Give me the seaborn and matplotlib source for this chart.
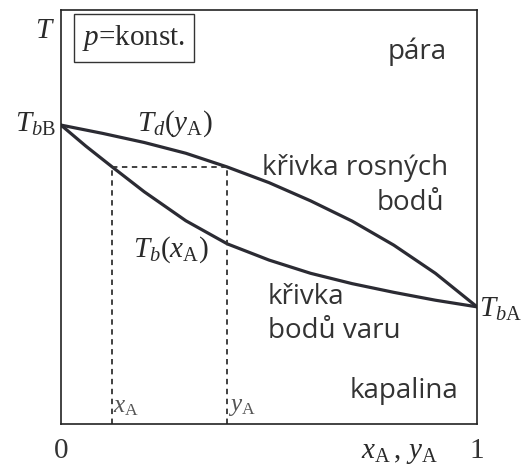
import matplotlib
matplotlib.use("Agg")
import matplotlib.pyplot as plt
import seaborn as sns
import pandas as pd

# Composition of component A (liquid x_A / vapour y_A) and reduced temperature
dew_x = [0.0, 0.1, 0.2, 0.3, 0.399, 0.5, 0.6, 0.7, 0.8, 0.9, 1.0]
dew_T = [0.722, 0.702, 0.680, 0.654, 0.621, 0.583, 0.539, 0.490, 0.432, 0.364, 0.283]

boil_x = [0.0, 0.06, 0.123, 0.2, 0.3, 0.4, 0.5, 0.6, 0.7, 0.8, 0.9, 1.0]
boil_T = [0.722, 0.671, 0.621, 0.561, 0.491, 0.435, 0.396, 0.364, 0.339, 0.318, 0.299, 0.283]

# Equilibrium tie line: liquid x_A and vapour y_A at the same temperature
tie_x = 0.123
tie_y = 0.399
tie_T = 0.621

x_ticks = [0, 1]
x_tick_labels = ["0", "1"]

sns.set_style("white")
plt.rcParams["mathtext.fontset"] = "custom"
plt.rcParams["mathtext.rm"] = "Liberation Serif"
plt.rcParams["mathtext.it"] = "Liberation Serif:italic"
plt.rcParams["font.family"] = ["Open Sans", "DejaVu Sans"]

W, H = 531, 470
fig = plt.figure(figsize=(W / 100, H / 100), dpi=100)
ax = fig.add_axes([61 / W, 1 - 424 / H, (477 - 61) / W, (424 - 10) / H])

curve_color = "#2b2b33"
dew = pd.DataFrame({"x": dew_x, "T": dew_T})
boil = pd.DataFrame({"x": boil_x, "T": boil_T})
sns.lineplot(data=dew, x="x", y="T", ax=ax, color=curve_color, lw=2.3,
             sort=False, estimator=None)
sns.lineplot(data=boil, x="x", y="T", ax=ax, color=curve_color, lw=2.3,
             sort=False, estimator=None)

dash_kw = dict(color="#333333", lw=1.3, ls=(0, (3, 2.5)))
ax.plot([tie_x, tie_y], [tie_T, tie_T], **dash_kw)
ax.plot([tie_x, tie_x], [0, tie_T], **dash_kw)
ax.plot([tie_y, tie_y], [0, tie_T], **dash_kw)

ax.set_xlim(0, 1)
ax.set_ylim(0, 1)
ax.set_xlabel("")
ax.set_ylabel("")
ax.set_yticks([])
ax.set_xticks(x_ticks)
ax.set_xticklabels(x_tick_labels, fontsize=21, family="Liberation Serif",
                   color="#333333")
ax.tick_params(axis="x", length=0, pad=10)
for s in ax.spines.values():
    s.set_visible(True)
    s.set_color("#222222")
    s.set_linewidth(1.2)


def put(x, y, s, **kw):
    fig.text(x / W, 1 - y / H, s, **kw)


serif = dict(fontsize=21, color="#2a2a2a")
sans = dict(fontsize=20, color="#333333")

put(45, 31, r"$T$", ha="center", va="center", **serif)
put(134, 38, r"$p$=konst.", ha="center", va="center", family="Liberation Serif",
    bbox=dict(boxstyle="square,pad=0.3", fc="white", ec="#333333", lw=1.0),
    **serif)
put(56, 124, r"$T_{b\mathrm{B}}$", ha="right", va="center", **serif)
put(137, 124, r"$T_{d}(y_{\mathrm{A}})$", ha="left", va="center", **serif)
put(133, 250, r"$T_{b}(x_{\mathrm{A}})$", ha="left", va="center", **serif)
put(479, 309, r"$T_{b\mathrm{A}}$", ha="left", va="center", **serif)
put(113, 406, r"$x_{\mathrm{A}}$", ha="left", va="center", fontsize=18,
    color="#555555")
put(228, 406, r"$y_{\mathrm{A}}$", ha="left", va="center", fontsize=18,
    color="#555555")
put(399, 452, r"$x_{\mathrm{A}}\,,\,y_{\mathrm{A}}$", ha="center", va="center",
    **serif)

put(447, 52, "pára", ha="right", va="center", **sans)
put(262, 168, "křivka rosných", ha="left", va="center", **sans)
put(444, 203, "bodů", ha="right", va="center", **sans)
put(268, 297, "křivka", ha="left", va="center", **sans)
put(268, 331, "bodů varu", ha="left", va="center", **sans)
put(458, 391, "kapalina", ha="right", va="center", **sans)

fig.savefig("out.png", dpi=100, facecolor="white")
